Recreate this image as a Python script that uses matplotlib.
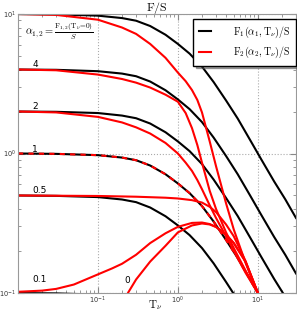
import matplotlib
matplotlib.use("Agg")
import matplotlib.pyplot as plt
from matplotlib.ticker import LogLocator, NullFormatter

plt.rcParams['mathtext.fontset'] = 'cm'

# ---- F1(alpha, T)/S (black) ----
T1 = [0.01, 0.03, 0.1, 0.2, 0.3, 0.45, 0.7, 1, 1.4, 2, 2.8, 4, 5.6, 8, 11, 16, 22, 30]
F1_10 = [9.99, 9.94, 9.73, 9.35, 8.95, 8.2, 7.1, 6.1, 5.2, 4.2, 3.25, 2.4, 1.78, 1.25, 0.91, 0.63, 0.47, 0.345]
F1_4 = [4.0, 3.98, 3.89, 3.74, 3.58, 3.28, 2.84, 2.44, 2.08, 1.68, 1.3, 0.96, 0.71, 0.5, 0.364, 0.252, 0.188, 0.138]
F1_2 = [2.0, 1.99, 1.95, 1.87, 1.79, 1.64, 1.42, 1.22, 1.04, 0.84, 0.65, 0.48, 0.356, 0.25, 0.182, 0.126, 0.094, 0.069]
F1_1 = [1.0, 0.994, 0.973, 0.935, 0.895, 0.82, 0.71, 0.61, 0.52, 0.42, 0.325, 0.24, 0.178, 0.125, 0.091, 0.063, 0.047, 0.0345]
F1_05 = [0.5, 0.497, 0.487, 0.468, 0.448, 0.41, 0.355, 0.305, 0.26, 0.21, 0.163, 0.12, 0.089, 0.063, 0.046, 0.032, 0.024, 0.017]
F1_01 = [0.0999, 0.0994, 0.0973, 0.0935, 0.0895, 0.082, 0.071, 0.061, 0.052, 0.042, 0.0325, 0.024, 0.0178, 0.0125, 0.0091, 0.0063, 0.0047, 0.0035]

# ---- F2(alpha, T)/S (red), computed up to T = 10 ----
T2 = [0.01, 0.03, 0.1, 0.2, 0.3, 0.45, 0.7, 1.0, 1.25, 1.5, 1.75, 2.0, 2.5, 3.0, 4.0, 5.0, 7.0, 10]
F2_10 = [10, 9.85, 9.1, 8.0, 7.2, 6.1, 4.85, 3.8, 3.3, 2.85, 2.42, 1.97, 1.22, 0.81, 0.44, 0.285, 0.165, 0.1]
F2_4 = [4.0, 3.95, 3.68, 3.42, 3.22, 2.97, 2.64, 2.35, 1.95, 1.52, 1.15, 0.86, 0.54, 0.4, 0.272, 0.21, 0.145, 0.1]
F2_2 = [2.0, 1.97, 1.83, 1.67, 1.54, 1.39, 1.19, 1.0, 0.86, 0.75, 0.645, 0.555, 0.425, 0.345, 0.255, 0.2, 0.14, 0.1]
T2_1 = [0.01, 0.03, 0.1, 0.2, 0.3, 0.45, 0.7, 1, 1.4, 2, 2.8, 4, 5.6, 8, 10]
F2_1 = [1.0, 0.994, 0.973, 0.935, 0.895, 0.82, 0.71, 0.61, 0.52, 0.42, 0.325, 0.24, 0.178, 0.125, 0.1]
T2_05 = [0.01, 0.1, 0.3, 0.7, 1.0, 1.5, 2.0, 2.5, 3.0, 4.0, 5.0, 7.0, 10]
F2_05 = [0.5, 0.496, 0.49, 0.482, 0.476, 0.463, 0.445, 0.415, 0.38, 0.31, 0.255, 0.17, 0.1]
T2_01 = [0.01, 0.02, 0.03, 0.05, 0.1, 0.15, 0.2, 0.3, 0.45, 0.7, 1.0, 1.5, 2.0, 2.5, 3.0, 4.0, 5.0, 7.0, 10]
F2_01 = [0.102, 0.104, 0.107, 0.115, 0.136, 0.15, 0.162, 0.188, 0.228, 0.268, 0.298, 0.318, 0.32, 0.312,
         0.298, 0.262, 0.228, 0.168, 0.1]
T2_0 = [0.2, 0.237, 0.3, 0.45, 0.7, 1.0, 1.5, 2.0, 2.5, 3.0, 4.0, 5.0, 7.0, 10]
F2_0 = [0.075, 0.1, 0.125, 0.168, 0.218, 0.272, 0.305, 0.315, 0.31, 0.297, 0.262, 0.228, 0.168, 0.1]

alpha_labels = ['4', '2', '1', '0.5', '0.1', '0']
alpha_label_T = [0.015, 0.015, 0.015, 0.015, 0.015, 0.216]
alpha_label_F = [4.2, 2.1, 1.03, 0.525, 0.119, 0.117]

fig = plt.figure(figsize=(2.97, 3.15), dpi=100)
ax = fig.add_axes([18/297, 22/315, 278/297, 279/315])
ax.set_xscale('log')
ax.set_yscale('log')

lw = 1.5
for F in [F1_10, F1_4, F1_2, F1_1, F1_05, F1_01]:
    ax.plot(T1, F, color='black', lw=lw)
for F in [F2_10, F2_4, F2_2]:
    ax.plot(T2, F, color='red', lw=lw)
ax.plot(T2_05, F2_05, color='red', lw=lw)
ax.plot(T2_01, F2_01, color='red', lw=lw)
ax.plot(T2_0, F2_0, color='red', lw=lw)
ax.plot(T2_1, F2_1, color='red', lw=lw, ls=(0, (2.5, 2.5)))

ax.plot([], [], color='black', lw=lw, label=r'$\mathrm{F_1(\alpha_1,T_\nu)/S}$')
ax.plot([], [], color='red', lw=lw, label=r'$\mathrm{F_2(\alpha_2,T_\nu)/S}$')

ax.set_xlim(0.01, 30)
ax.set_ylim(0.1, 10)
ax.set_xticks([0.1, 1, 10])
ax.xaxis.set_minor_locator(LogLocator(base=10, subs=range(2, 10), numticks=20))
ax.xaxis.set_minor_formatter(NullFormatter())

for s, tx, ty in zip(alpha_labels, alpha_label_T, alpha_label_F):
    ax.text(tx, ty, s, fontsize=6.5, va='baseline', ha='left', family='DejaVu Sans')

ax.text(0.0122, 7.5, r'$\alpha_{1,2}=\frac{\mathrm{F_{1,2}(T_\nu\!=\!0)}}{S}$', fontsize=7.5,
        va='center', ha='left')

fig.text(157/297, 1 - 11/315, r'$\mathrm{F/S}$', fontsize=8.5, ha='center', va='baseline')
fig.text(155/297, 1 - 308/315, r'$\mathrm{T_\nu}$', fontsize=8, ha='center', va='baseline')

ax.grid(True, which='major', ls=':', color='#aaaaaa', lw=0.8)
ax.tick_params(which='both', direction='in', top=True, right=True, labelsize=4.8,
               colors='#888888', labelcolor='#333333', pad=1.2)
ax.tick_params(which='major', length=4)
ax.tick_params(which='minor', length=2)
for sp in ax.spines.values():
    sp.set_color('#999999')

leg = ax.legend(loc='upper right', bbox_to_anchor=(1.0, 1 - 5/279), borderaxespad=0,
                fontsize=7.2, frameon=True, fancybox=False, shadow=True,
                handlelength=1.2, handletextpad=2.2, borderpad=0.55, labelspacing=0.5)
leg.get_frame().set_edgecolor('black')
leg.get_frame().set_linewidth(1.0)

fig.savefig('out.png', dpi=100)
